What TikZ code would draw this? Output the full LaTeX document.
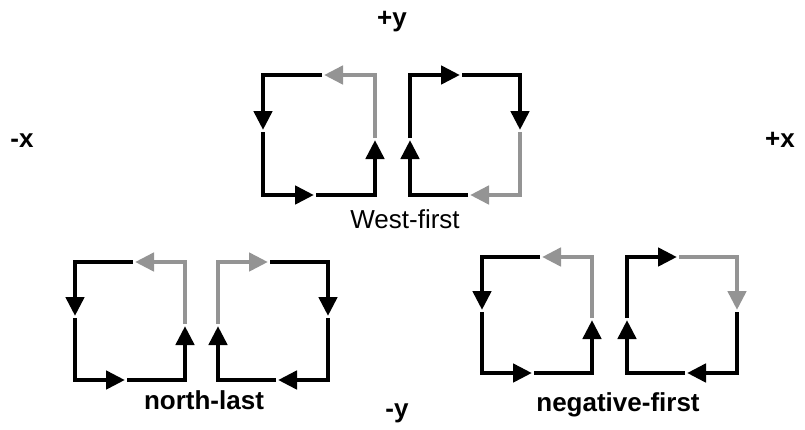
\documentclass[tikz,border=0pt]{standalone}
\usepackage{fontspec}
\setmainfont{Liberation Sans}
\usetikzlibrary{arrows.meta}

% Side points of one turn loop: #1 name, (#2,#3)-(#4,#5) corners, #6 = +1 clockwise, -1 counter-clockwise
\newcommand{\turnloop}[6]{%
  \pgfmathsetmacro{\lpmx}{(#2+#4)/2}%
  \pgfmathsetmacro{\lpmy}{(#3+#5)/2}%
  \coordinate (#1-n) at ({\lpmx-5*(#6)},#3);
  \coordinate (#1-e) at (#4,{\lpmy-5*(#6)});
  \coordinate (#1-s) at ({\lpmx+5*(#6)},#5);
  \coordinate (#1-w) at (#2,{\lpmy+5*(#6)});
}

\tikzset{
  turn/.style={line width=4.6pt, line join=miter, draw=black,
    -{Triangle[length=19pt,width=18pt,fill=black]}, shorten <=2pt},
  banned/.style={turn, draw=black!42,
    -{Triangle[length=19pt,width=18pt,fill=black!42]}},
  axis/.style={font=\fontsize{26}{30}\selectfont\bfseries, anchor=base, inner sep=0pt},
  caption/.style={font=\fontsize{26}{30}\selectfont\bfseries, anchor=base, inner sep=0pt},
}

\begin{document}
\begin{tikzpicture}[x=1pt, y=-1pt]
  \path[use as bounding box] (0,0) rectangle (805,429);

  % axis directions
  \node[axis] (py) at (392,26) {+y};
  \node[axis] (ny) at (397,417) {-y};
  \node[axis] (nx) at (22,147) {-x};
  \node[axis] (px) at (780,147) {+x};

  % West-first
  \turnloop{wfl}{263}{75}{375}{195}{-1}
  \turnloop{wfr}{410}{75}{520}{195}{1}
  \draw[turn]   (wfl-n) -| (wfl-w);
  \draw[turn]   (wfl-w) |- (wfl-s);
  \draw[turn]   (wfl-s) -| (wfl-e);
  \draw[banned] (wfl-e) |- (wfl-n);
  \draw[turn]   (wfr-n) -| (wfr-e);
  \draw[banned] (wfr-e) |- (wfr-s);
  \draw[turn]   (wfr-s) -| (wfr-w);
  \draw[turn]   (wfr-w) |- (wfr-n);
  \node[caption, font=\fontsize{26}{30}\selectfont] (wf) at (405,228) {West-first};

  % north-last
  \turnloop{nll}{75}{262}{185}{380}{-1}
  \turnloop{nlr}{218}{262}{328}{380}{1}
  \draw[turn]   (nll-n) -| (nll-w);
  \draw[turn]   (nll-w) |- (nll-s);
  \draw[turn]   (nll-s) -| (nll-e);
  \draw[banned] (nll-e) |- (nll-n);
  \draw[turn]   (nlr-n) -| (nlr-e);
  \draw[turn]   (nlr-e) |- (nlr-s);
  \draw[turn]   (nlr-s) -| (nlr-w);
  \draw[banned] (nlr-w) |- (nlr-n);
  \node[caption] (nl) at (204,409) {north-last};

  % negative-first
  \turnloop{nfl}{482}{257}{592}{373}{-1}
  \turnloop{nfr}{627}{257}{737}{373}{1}
  \draw[turn]   (nfl-n) -| (nfl-w);
  \draw[turn]   (nfl-w) |- (nfl-s);
  \draw[turn]   (nfl-s) -| (nfl-e);
  \draw[banned] (nfl-e) |- (nfl-n);
  \draw[banned] (nfr-n) -| (nfr-e);
  \draw[turn]   (nfr-e) |- (nfr-s);
  \draw[turn]   (nfr-s) -| (nfr-w);
  \draw[turn]   (nfr-w) |- (nfr-n);
  \node[caption] (nf) at (618,411) {negative-first};
\end{tikzpicture}
\end{document}
